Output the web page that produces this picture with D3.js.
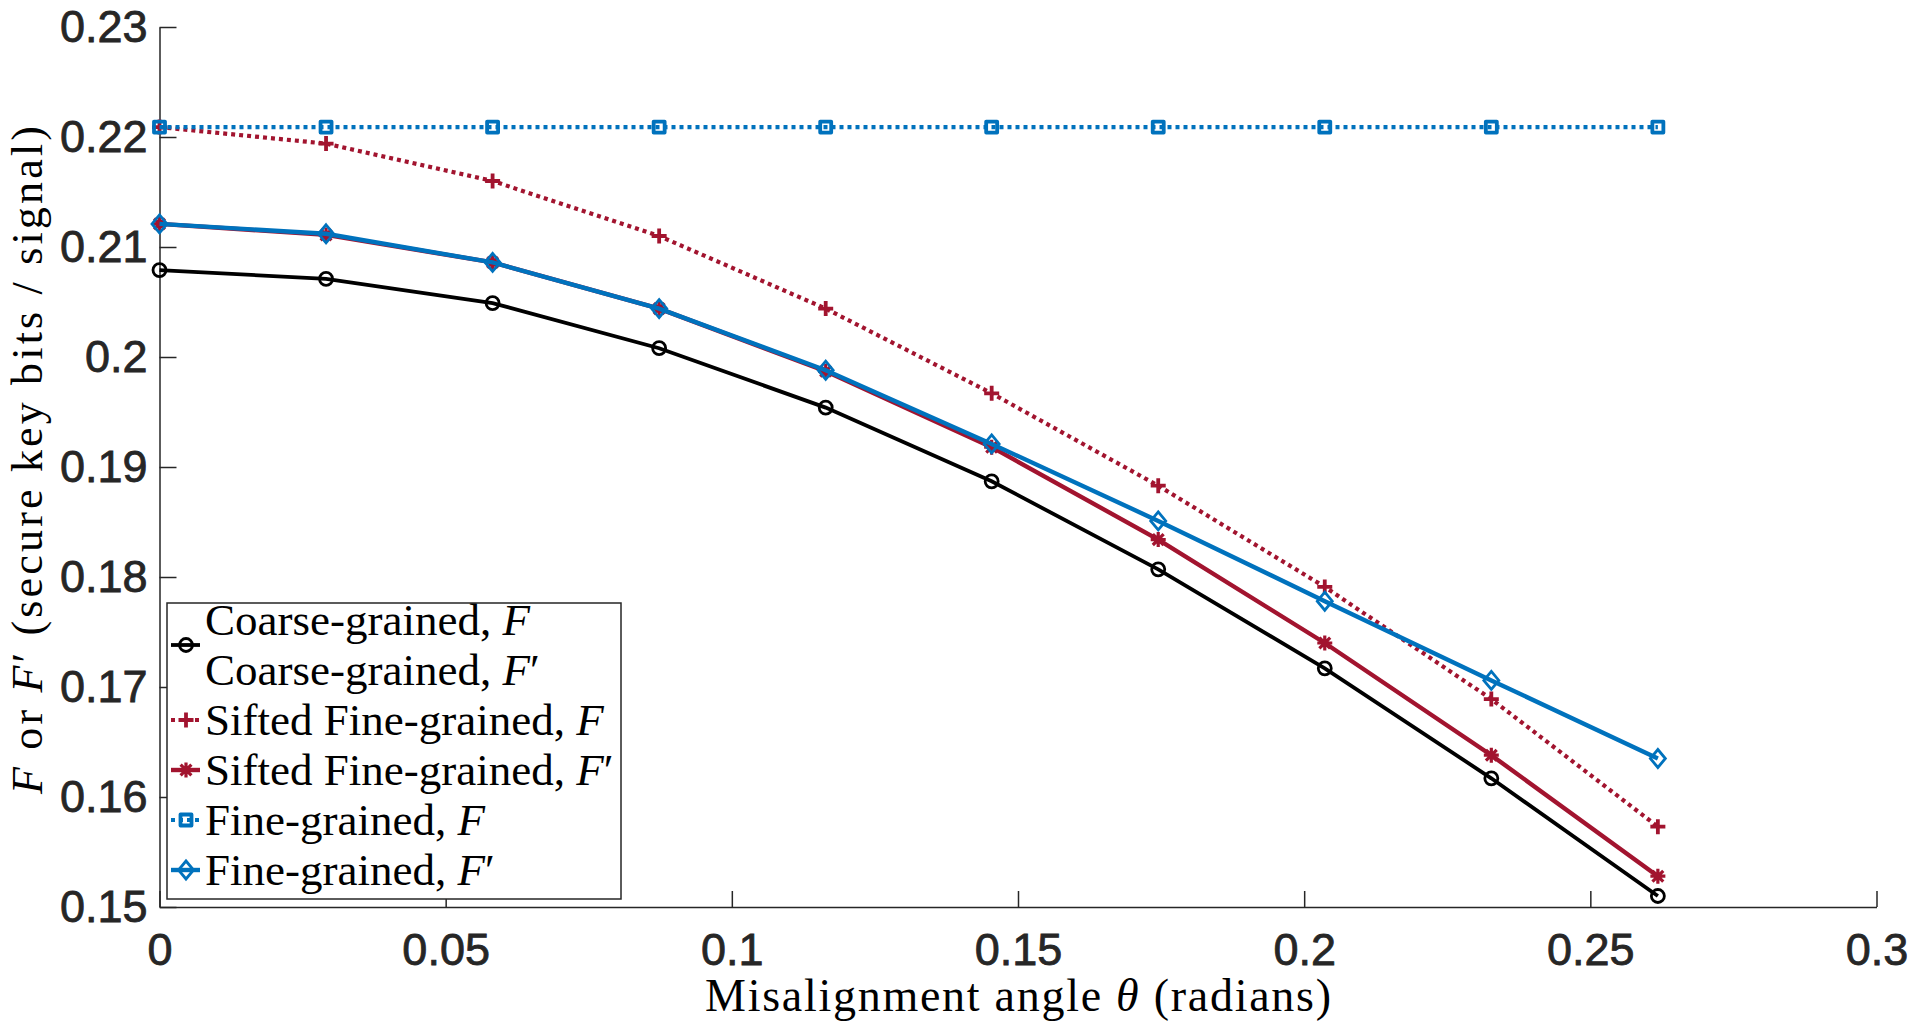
<!DOCTYPE html>
<html>
<head>
<meta charset="utf-8">
<script src="https://cdn.jsdelivr.net/npm/d3@7"></script>
<style>
  body { margin: 0; background: #fff; }
  svg { display: block; }
</style>
</head>
<body>
<svg id="chart" width="1920" height="1029"></svg>
<script>
// Misalignment angle (radians), 0 .. 15 degrees
const theta = [0, 0.0291, 0.0582, 0.0873, 0.1164, 0.1454, 0.1745, 0.2036, 0.2327, 0.2618];

const coarseF   = [0.2079, 0.2071, 0.2049, 0.2008, 0.1954, 0.1887, 0.1807, 0.1717, 0.1617, 0.1510];
const siftedF   = [0.2209, 0.2194, 0.2160, 0.2110, 0.2044, 0.1967, 0.1883, 0.1791, 0.1689, 0.1573];
const siftedFp  = [0.2121, 0.2111, 0.2086, 0.2044, 0.1987, 0.1918, 0.1834, 0.1740, 0.1638, 0.1528];
const fineF     = [0.2209, 0.2209, 0.2209, 0.2209, 0.2209, 0.2209, 0.2209, 0.2209, 0.2209, 0.2209];
const fineFp    = [0.2121, 0.2112, 0.2086, 0.2044, 0.1988, 0.1921, 0.1851, 0.1778, 0.1706, 0.1635];

const xTicks = [0, 0.05, 0.1, 0.15, 0.2, 0.25, 0.3];
const yTicks = [0.15, 0.16, 0.17, 0.18, 0.19, 0.2, 0.21, 0.22, 0.23];

const black = '#000000';
const red = '#A2142F';
const blue = '#0072BD';
const axisColor = '#262626';

// draw order matters: blue markers sit on top of the red ones
const series = [
  {values: coarseF,  color: black, dotted: false, marker: 'circle',   width: 3.8},
  {values: siftedF,  color: red,   dotted: true,  marker: 'plus',     width: 4.2},
  {values: siftedFp, color: red,   dotted: false, marker: 'asterisk', width: 4.4},
  {values: fineF,    color: blue,  dotted: true,  marker: 'square',   width: 4.2},
  {values: fineFp,   color: blue,  dotted: false, marker: 'diamond',  width: 4.4}
];

const svg = d3.select('#chart');

const plot = {left: 159.5, right: 1876.5, top: 27, bottom: 907};

const x = d3.scaleLinear().domain([0, 0.3]).range([plot.left, plot.right]);
const y = d3.scaleLinear().domain([0.15, 0.23]).range([plot.bottom, plot.top]);

const fmt = d => String(+d.toFixed(2));

// Axes, ticks pointing inwards like MATLAB
const xAxis = svg.append('g')
  .attr('transform', `translate(0, ${plot.bottom})`)
  .call(d3.axisBottom(x).tickValues(xTicks).tickFormat(fmt)
    .tickSizeInner(-16).tickSizeOuter(0).tickPadding(26));

const yAxis = svg.append('g')
  .attr('transform', `translate(${plot.left}, 0)`)
  .call(d3.axisLeft(y).tickValues(yTicks).tickFormat(fmt)
    .tickSizeInner(-17).tickSizeOuter(0).tickPadding(12));

[xAxis, yAxis].forEach(g => {
  g.select('.domain').attr('stroke', axisColor).attr('stroke-width', 1.5);
  g.selectAll('.tick line').attr('stroke', axisColor).attr('stroke-width', 1.5);
  g.selectAll('.tick text')
    .attr('fill', axisColor)
    .attr('stroke', axisColor)
    .attr('stroke-width', 0.8)
    .style('font-family', '"Liberation Sans", Arial, Helvetica, sans-serif')
    .style('font-size', '45px');
});

// Marker shapes
const drawMarker = (g, type, color) => {
  const s = 7.5;
  if (type === 'circle') {
    g.append('circle').attr('r', 6.5).attr('fill', 'none')
      .attr('stroke', color).attr('stroke-width', 2.8);
  } else if (type === 'plus') {
    g.append('path').attr('d', `M${-s},0H${s}M0,${-s}V${s}`)
      .attr('stroke', color).attr('stroke-width', 3.8);
  } else if (type === 'asterisk') {
    const d = s * 0.72;
    g.append('path')
      .attr('d', `M${-s},0H${s}M0,${-s}V${s}M${-d},${-d}L${d},${d}M${-d},${d}L${d},${-d}`)
      .attr('stroke', color).attr('stroke-width', 3.2);
  } else if (type === 'square') {
    g.append('rect').attr('x', -5.5).attr('y', -5.5).attr('width', 11).attr('height', 11)
      .attr('fill', 'none').attr('stroke', color).attr('stroke-width', 3.8)
      .attr('stroke-linejoin', 'round');
  } else if (type === 'diamond') {
    g.append('path').attr('d', 'M0,-9L7.5,0L0,9L-7.5,0Z')
      .attr('fill', 'none').attr('stroke', color).attr('stroke-width', 2.8);
  }
};

const line = d3.line().x((d, i) => x(theta[i])).y(d => y(d));

const seriesGroup = svg.append('g').attr('class', 'series');
series.forEach(s => {
  const g = seriesGroup.append('g');
  g.append('path')
    .datum(s.values)
    .attr('d', line)
    .attr('fill', 'none')
    .attr('stroke', s.color)
    .attr('stroke-width', s.width)
    .attr('stroke-dasharray', s.dotted ? '4,4' : null);
  s.values.forEach((v, i) => {
    const m = g.append('g').attr('transform', `translate(${x(theta[i])}, ${y(v)})`);
    drawMarker(m, s.marker, s.color);
  });
});

// Axis titles (LaTeX style)
const serif = '"Liberation Serif", "Times New Roman", serif';

const xTitle = svg.append('text')
  .attr('x', (plot.left + plot.right) / 2)
  .attr('y', 1011)
  .attr('text-anchor', 'middle')
  .style('font-family', serif)
  .style('font-size', '46px')
  .attr('fill', black)
  .attr('textLength', 626)
  .attr('lengthAdjust', 'spacing');
xTitle.append('tspan').text('Misalignment angle ');
xTitle.append('tspan').style('font-style', 'italic').text('θ');
xTitle.append('tspan').text(' (radians)');

const yTitle = svg.append('text')
  .attr('transform', 'translate(42, 460) rotate(-90)')
  .attr('text-anchor', 'middle')
  .style('font-family', serif)
  .style('font-size', '44px')
  .attr('fill', black)
  .attr('textLength', 668)
  .attr('lengthAdjust', 'spacing');
yTitle.append('tspan').style('font-style', 'italic').text('F');
yTitle.append('tspan').text(' or ');
yTitle.append('tspan').style('font-style', 'italic').text('F');
yTitle.append('tspan').text('′ (secure key bits / signal)');

// Legend
const legendEntries = [
  {lines: [['Coarse-grained, ', 'F', ''], ['Coarse-grained, ', 'F', '′']], s: series[0]},
  {lines: [['Sifted Fine-grained, ', 'F', '']], s: series[1]},
  {lines: [['Sifted Fine-grained, ', 'F', '′']], s: series[2]},
  {lines: [['Fine-grained, ', 'F', '']], s: series[3]},
  {lines: [['Fine-grained, ', 'F', '′']], s: series[4]}
];

const legend = {left: 167, top: 603, width: 454, height: 296, rowGap: 50, firstRow: 620};

const lg = svg.append('g').attr('class', 'legend');
lg.append('rect')
  .attr('x', legend.left).attr('y', legend.top)
  .attr('width', legend.width).attr('height', legend.height)
  .attr('fill', '#fff').attr('stroke', axisColor).attr('stroke-width', 1.5);

let row = 0;
legendEntries.forEach(e => {
  const rowsUsed = e.lines.length;
  const cy = legend.firstRow + (row + (rowsUsed - 1) / 2) * legend.rowGap;
  const g = lg.append('g');
  g.append('line')
    .attr('x1', legend.left + 4).attr('x2', legend.left + 33)
    .attr('y1', cy).attr('y2', cy)
    .attr('stroke', e.s.color).attr('stroke-width', e.s.width)
    .attr('stroke-dasharray', e.s.dotted ? '4,4' : null);
  drawMarker(g.append('g').attr('transform', `translate(${legend.left + 19}, ${cy})`),
    e.s.marker, e.s.color);
  e.lines.forEach((ln, k) => {
    const t = g.append('text')
      .attr('x', legend.left + 38)
      .attr('y', legend.firstRow + (row + k) * legend.rowGap)
      .attr('dy', '0.33em')
      .style('font-family', serif)
      .style('font-size', '45px')
      .attr('fill', black);
    t.append('tspan').text(ln[0]);
    t.append('tspan').style('font-style', 'italic').text(ln[1]);
    if (ln[2]) t.append('tspan').text(ln[2]);
  });
  row += rowsUsed;
});
</script>
</body>
</html>
